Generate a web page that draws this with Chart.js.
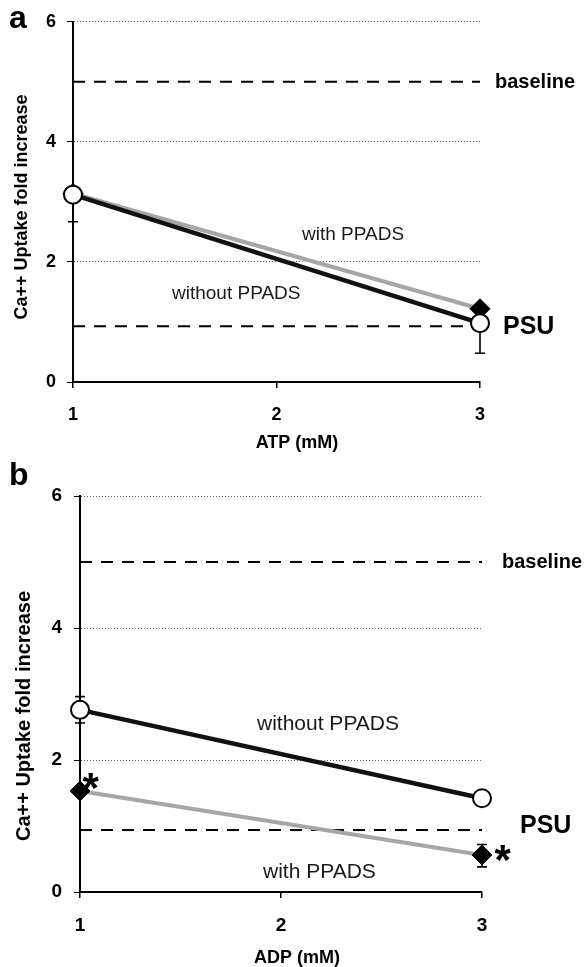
<!DOCTYPE html>
<html><head><meta charset="utf-8">
<script src="https://cdn.jsdelivr.net/npm/chart.js@4"></script>
<style>
html,body{margin:0;padding:0;background:#fff;width:586px;height:967px;overflow:hidden}
canvas{position:absolute;left:0;display:block}
#ca{top:0}
#cb{top:440px}
</style></head><body>
<canvas id="ca"></canvas>
<canvas id="cb"></canvas>
<script>
// ---- data ----
const concentrations = [1, 3];          // mM
const xTicks = [1, 2, 3];
const yTicks = [0, 2, 4, 6];
const atpWithout        = [3.12, 0.98];
const atpWithoutErrUp   = [0, 0];
const atpWithoutErrDown = [0.45, 0.50];
const atpWith           = [3.14, 1.22];
const atpWithErrUp      = [0, 0];
const atpWithErrDown    = [0, 0];
const adpWithout        = [2.76, 1.42];
const adpWithoutErrUp   = [0.20, 0];
const adpWithoutErrDown = [0.20, 0];
const adpWith           = [1.53, 0.56];
const adpWithErrUp      = [0, 0.16];
const adpWithErrDown    = [0, 0.18];
const adpWithSignif = [true, true];
const atpWithSignif = [false, false];
const baselineLevel = 5.0;
const psuLevelA = 0.93;
const psuLevelB = 0.94;

const FONT = "'Liberation Sans', Arial, sans-serif";

function buildPanel(o) {
  const canvas = document.getElementById(o.id);
  canvas.width = 586; canvas.height = o.h;
  const pts = ys => concentrations.map((x, i) => ({x, y: ys[i]}));
  const flat = v => [{x: xTicks[0], y: v}, {x: xTicks[xTicks.length - 1], y: v}];

  const annot = {
    id: 'annot' + o.id,
    beforeDatasetsDraw(chart) {
      const ctx = chart.ctx, xs = chart.scales.x, ys = chart.scales.y;
      ctx.save();
      ctx.strokeStyle = '#000'; ctx.lineWidth = 1.6;
      o.errs.forEach(([vals, up, down]) => {
        concentrations.forEach((c, i) => {
          const px = xs.getPixelForValue(c);
          const mid = ys.getPixelForValue(vals[i]);
          ctx.beginPath();
          if (up[i]) {
            const top = ys.getPixelForValue(vals[i] + up[i]);
            ctx.moveTo(px, mid); ctx.lineTo(px, top);
            ctx.moveTo(px - 5, top); ctx.lineTo(px + 5, top);
          }
          if (down[i]) {
            const bot = ys.getPixelForValue(vals[i] - down[i]);
            ctx.moveTo(px, mid); ctx.lineTo(px, bot);
            ctx.moveTo(px - 5, bot); ctx.lineTo(px + 5, bot);
          }
          ctx.stroke();
        });
      });
      ctx.restore();
    },
    afterDraw(chart) {
      const ctx = chart.ctx, xs = chart.scales.x, ys = chart.scales.y, ca = chart.chartArea;
      ctx.save();
      ctx.fillStyle = '#000';
      ctx.textBaseline = 'alphabetic';
      ctx.textAlign = 'left';
      // panel letter
      ctx.font = 'bold 32px ' + FONT;
      ctx.fillText(o.letter, 9, o.letterY);
      // x title
      ctx.textAlign = 'center';
      ctx.font = 'bold ' + o.xTitleSize + 'px ' + FONT;
      ctx.fillText(o.xTitle, o.xTitleX, o.xTitleY);
      // y title
      ctx.save();
      ctx.translate(o.yTitleX, o.yTitleY);
      ctx.rotate(-Math.PI / 2);
      ctx.textBaseline = 'middle';
      ctx.font = 'bold ' + o.yTitleSize + 'px ' + FONT;
      ctx.fillText('Ca++ Uptake fold increase', 0, 0);
      ctx.restore();
      // reference labels
      ctx.textAlign = 'left';
      ctx.font = 'bold 20px ' + FONT;
      ctx.fillText('baseline', ca.right + o.baseDx, ys.getPixelForValue(baselineLevel) + 6);
      ctx.font = 'bold 25px ' + FONT;
      ctx.fillText('PSU', ca.right + o.psuDx, ys.getPixelForValue(o.psu) + o.psuDy);
      // series labels
      ctx.fillStyle = '#1a1a1a';
      ctx.font = o.labelSize + 'px ' + FONT;
      ctx.fillText('with PPADS', o.withLabel[0], o.withLabel[1]);
      ctx.fillText('without PPADS', o.withoutLabel[0], o.withoutLabel[1]);
      // significance asterisks
      ctx.fillStyle = '#000';
      ctx.font = 'bold 42px ' + FONT;
      const m = ctx.measureText('*');
      concentrations.forEach((c, i) => {
        if (!o.signif[i]) return;
        const cx = xs.getPixelForValue(c) + o.starOff[i][0];
        const cy = ys.getPixelForValue(o.withP[i]) + o.starOff[i][1];
        const x = cx - (m.actualBoundingBoxRight - m.actualBoundingBoxLeft) / 2 + m.actualBoundingBoxLeft;
        const y = cy + (m.actualBoundingBoxAscent - m.actualBoundingBoxDescent) / 2;
        ctx.fillText('*', x, y);
      });
      ctx.restore();
    }
  };

  new Chart(canvas, {
    type: 'line',
    data: {
      datasets: [
        { label: 'without PPADS', data: pts(o.without), borderColor: '#111', borderWidth: 4.5,
          pointStyle: 'circle', pointRadius: 9, pointBackgroundColor: '#fff',
          pointBorderColor: '#000', pointBorderWidth: 2, order: 0, clip: false },
        { label: 'with PPADS', data: pts(o.withP), borderColor: '#a6a6a6', borderWidth: 4,
          pointStyle: 'rectRot', pointRadius: 10, pointBackgroundColor: '#000',
          pointBorderColor: '#000', pointBorderWidth: 1, order: 1, clip: false },
        { label: 'baseline', data: flat(baselineLevel), borderColor: '#000', borderWidth: 2,
          borderDash: [12, 9], pointRadius: 0, order: 3, clip: false },
        { label: 'PSU', data: flat(o.psu), borderColor: '#000', borderWidth: 2,
          borderDash: [12, 9], pointRadius: 0, order: 3, clip: false }
      ]
    },
    options: {
      responsive: false, animation: false, devicePixelRatio: 1,
      layout: { padding: { left: 0, right: 586 - o.right, top: o.top, bottom: 0 } },
      plugins: { legend: { display: false }, tooltip: { enabled: false } },
      scales: {
        x: {
          type: 'linear', min: xTicks[0], max: xTicks[xTicks.length - 1],
          afterBuildTicks: s => { s.ticks = xTicks.map(v => ({value: v})); },
          afterFit: s => { s.height = o.h - o.bottom; },
          grid: { drawOnChartArea: false, drawTicks: true, tickLength: 6, color: '#000', tickColor: '#000', lineWidth: 1.5 },
          border: { display: true, color: '#000', width: 2 },
          ticks: { color: '#000', font: { family: FONT, weight: 'bold', size: o.tickSize }, padding: o.xTickPad, maxRotation: 0 }
        },
        y: {
          type: 'linear', min: yTicks[0], max: yTicks[yTicks.length - 1],
          afterBuildTicks: s => { s.ticks = yTicks.map(v => ({value: v})); },
          afterFit: s => { s.width = o.left; },
          grid: { drawOnChartArea: true, drawTicks: true, tickLength: 6,
                  color: c => c.tick && c.tick.value === 0 ? 'rgba(0,0,0,0)' : '#666',
                  tickColor: '#000', lineWidth: 1 },
          border: { display: true, color: '#000', width: 2, dash: [1, 2] },
          ticks: { color: '#000', font: { family: FONT, weight: 'bold', size: o.tickSize }, padding: o.yTickPad }
        }
      }
    },
    plugins: [annot]
  });
}

buildPanel({
  id: 'ca', h: 460, top: 21, bottom: 382, left: 73, right: 480,
  without: atpWithout, withP: atpWith,
  errs: [[atpWithout, atpWithoutErrUp, atpWithoutErrDown], [atpWith, atpWithErrUp, atpWithErrDown]],
  signif: atpWithSignif, starOff: [[0, 0], [0, 0]], psu: psuLevelA,
  letter: 'a', letterY: 28,
  xTitle: 'ATP (mM)', xTitleX: 297, xTitleY: 448, xTitleSize: 18,
  yTitleX: 22, yTitleY: 207, yTitleSize: 18,
  baseDx: 15, psuDx: 23, psuDy: 8,
  labelSize: 19, withLabel: [302, 240], withoutLabel: [172, 299],
  tickSize: 18, xTickPad: 16, yTickPad: 11
});

buildPanel({
  id: 'cb', h: 527, top: 56, bottom: 452, left: 80, right: 482,
  without: adpWithout, withP: adpWith,
  errs: [[adpWithout, adpWithoutErrUp, adpWithoutErrDown], [adpWith, adpWithErrUp, adpWithErrDown]],
  signif: adpWithSignif, starOff: [[11, -10], [21, -2]], psu: psuLevelB,
  letter: 'b', letterY: 45,
  xTitle: 'ADP (mM)', xTitleX: 297, xTitleY: 523, xTitleSize: 18,
  yTitleX: 24, yTitleY: 276, yTitleSize: 20,
  baseDx: 20, psuDx: 38, psuDy: 3,
  labelSize: 21, withLabel: [263, 438], withoutLabel: [257, 290],
  tickSize: 19, xTickPad: 16, yTickPad: 12
});
</script>
</body></html>
